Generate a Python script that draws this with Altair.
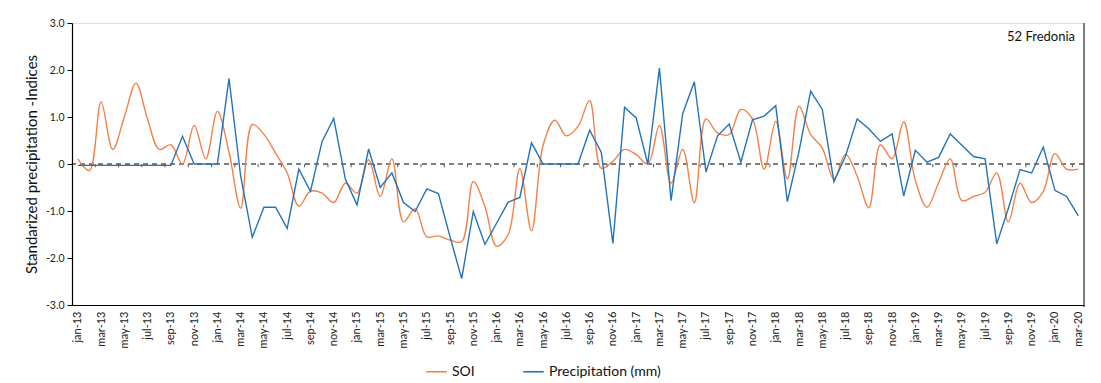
import json
import altair as alt
import pandas as pd

month_names = ["jan", "feb", "mar", "apr", "may", "jun", "jul", "aug", "sep", "oct", "nov", "dec"]
months = [f"{m}-{y}" for y in range(13, 21) for m in month_names][:87]
tick_labels = months[::2]

soi = [0.11, -0.14, 1.32, 0.31, 1.00, 1.72, 0.95, 0.31, 0.41, 0.00,
       0.82, 0.11, 1.12, 0.25, -0.94, 0.84, 0.63, 0.23, -0.19, -0.90,
       -0.58, -0.62, -0.82, -0.41, -0.62, 0.09, -0.69, 0.11, -1.23, -0.95,
       -1.55, -1.53, -1.62, -1.65, -0.37, -0.91, -1.75, -1.50, -0.10, -1.42,
       0.40, 0.93, 0.60, 0.80, 1.35, -0.09, 0.06, 0.31, 0.20, 0.00,
       0.82, -0.41, 0.31, -0.82, 0.96, 0.66, 0.63, 1.16, 0.96, -0.11,
       0.91, -0.32, 1.23, 0.63, 0.34, -0.32, 0.21, -0.26, -0.93, 0.41,
       0.11, 0.90, -0.35, -0.92, -0.40, 0.11, -0.78, -0.69, -0.60, -0.19,
       -1.23, -0.41, -0.82, -0.58, 0.22, -0.11, -0.11]

precip = [-0.03, -0.03, -0.03, -0.03, -0.03, -0.03, -0.03, -0.03, -0.03, 0.59,
          0.00, 0.00, 0.00, 1.82, -0.26, -1.56, -0.92, -0.92, -1.37, -0.11,
          -0.58, 0.48, 0.97, -0.32, -0.87, 0.32, -0.50, -0.19, -0.82, -1.01,
          -0.53, -0.63, -1.55, -2.44, -1.01, -1.71, -1.26, -0.81, -0.71, 0.45,
          0.00, 0.00, 0.00, 0.00, 0.72, 0.25, -1.69, 1.21, 0.98, 0.00,
          2.04, -0.78, 1.07, 1.75, -0.17, 0.60, 0.85, 0.04, 0.94, 1.02,
          1.24, -0.80, 0.27, 1.55, 1.16, -0.38, 0.17, 0.96, 0.75, 0.48,
          0.64, -0.68, 0.29, 0.04, 0.14, 0.64, 0.40, 0.16, 0.11, -1.70,
          -0.94, -0.12, -0.19, 0.36, -0.56, -0.69, -1.10]

series_names = ["SOI", "Precipitation (mm)"]
series_colors = ["#F0824A", "#2472B8"]
y_ticks = [-3, -2, -1, 0, 1, 2, 3]

FONT = "Lato"

df = pd.DataFrame({"idx": list(range(len(months))), "month": months,
                   "SOI": soi, "Precipitation (mm)": precip})
long = df.melt(id_vars=["idx", "month"], var_name="series", value_name="value")

x_scale = alt.Scale(domain=[-0.5, len(months) - 0.5], nice=False, zero=False)
y_scale = alt.Scale(domain=[-3, 3], nice=False)
color_scale = alt.Scale(domain=series_names, range=series_colors)

x_axis = alt.Axis(values=list(range(0, len(months), 2)),
                  labelExpr=f"{json.dumps(tick_labels)}[round(datum.value/2)]",
                  labelAngle=-90, ticks=False, grid=False, domainColor="black",
                  domainWidth=1.2, title=None, labelFontSize=11, labelPadding=6,
                  labelColor="#222", labelFont=FONT)
y_axis = alt.Axis(values=y_ticks,
                  labelExpr="datum.value == 0 ? '0' : (datum.value < 0 ? '-' : '') + format(abs(datum.value), '.1f')",
                  title="Standarized precipitation -Indices", grid=False,
                  tickColor="black", domainColor="black", tickSize=5, domainWidth=1.2,
                  labelFontSize=10.5, labelColor="#222", labelFont=FONT, labelPadding=3,
                  titleFont=FONT, titleFontSize=15, titleFontWeight="normal",
                  titleColor="#111", titlePadding=6)

legend = alt.Legend(title=None, orient="none", legendX=353, legendY=337,
                    direction="horizontal", symbolType="stroke", symbolStrokeWidth=1.6,
                    symbolSize=420, labelFontSize=14, labelFont=FONT, labelColor="#111",
                    columnPadding=45)

base = alt.Chart(long)

soi_line = base.transform_filter(alt.datum.series == "SOI").mark_line(
    interpolate="catmull-rom", strokeWidth=1.4).encode(
    x=alt.X("idx:Q", scale=x_scale, axis=x_axis),
    y=alt.Y("value:Q", scale=y_scale, axis=y_axis),
    color=alt.Color("series:N", scale=color_scale, legend=legend, sort=series_names),
)

precip_line = base.transform_filter(alt.datum.series == "Precipitation (mm)").mark_line(
    strokeWidth=1.4).encode(
    x=alt.X("idx:Q", scale=x_scale, axis=x_axis),
    y=alt.Y("value:Q", scale=y_scale, axis=y_axis),
    color=alt.Color("series:N", scale=color_scale, legend=legend, sort=series_names),
)

zero_line = alt.Chart(pd.DataFrame({"z": [0]})).mark_rule(
    strokeDash=[5, 4], color="black", strokeWidth=1.2).encode(y=alt.Y("z:Q", scale=y_scale, axis=y_axis))

tick_pos = [p + 0.5 for p in range(1, len(months) - 1, 2)]
zero_ticks = alt.Chart(pd.DataFrame({"p": tick_pos})).mark_rule(
    color="#555", strokeWidth=1).encode(
    x=alt.X("p:Q", scale=x_scale, axis=x_axis),
    y=alt.datum(0), y2=alt.datum(-0.07))

right_border = alt.Chart(pd.DataFrame({"r": [len(months) - 0.5]})).mark_rule(
    color="#333", strokeWidth=1.2).encode(
    x=alt.X("r:Q", scale=x_scale, axis=x_axis),
    y=alt.datum(-3.04), y2=alt.datum(3))

label = alt.Chart(pd.DataFrame({"t": ["52 Fredonia"]})).mark_text(
    align="right", baseline="middle", fontSize=13, font=FONT, color="#111").encode(
    x=alt.value(1003), y=alt.value(14), text="t:N")

chart = alt.layer(zero_line, zero_ticks, right_border, soi_line, precip_line, label).properties(
    width=1012, height=282,
    autosize=alt.AutoSizeParams(type="none"),
    padding={"left": 64, "top": 15, "right": 9, "bottom": 76},
).configure_view(stroke=None).configure(background="white")

chart.save("out.html", embed_options={"renderer": "svg", "actions": False})
